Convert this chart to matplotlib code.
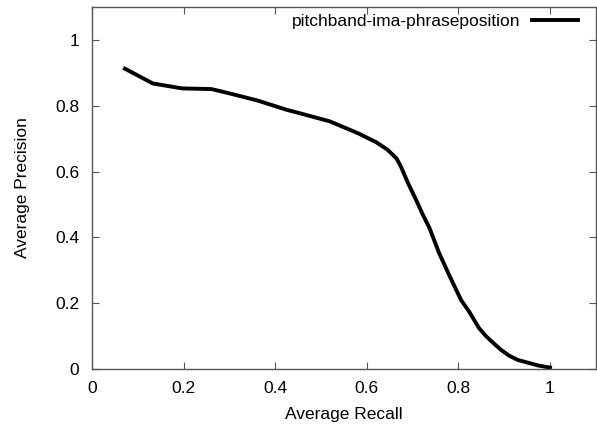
import numpy as np
import matplotlib.pyplot as plt

recall = [0.072, 0.133, 0.197, 0.261, 0.30, 0.362, 0.425, 0.447, 0.519, 0.582, 0.621,
          0.645, 0.665, 0.675, 0.690, 0.708, 0.722, 0.737, 0.758, 0.780, 0.806, 0.824,
          0.845, 0.860, 0.876, 0.893, 0.911, 0.930, 0.954, 0.975, 1.0]
precision = [0.913, 0.868, 0.853, 0.851, 0.838, 0.816, 0.788, 0.780, 0.753, 0.716, 0.689,
             0.667, 0.640, 0.614, 0.565, 0.513, 0.470, 0.428, 0.352, 0.285, 0.209, 0.173,
             0.124, 0.100, 0.079, 0.058, 0.040, 0.027, 0.018, 0.010, 0.004]

plt.rcParams['font.family'] = ['Liberation Sans', 'DejaVu Sans']
plt.rcParams['font.size'] = 12.5

fig = plt.figure(figsize=(5.97, 4.24), dpi=100)
ax = fig.add_axes([0.154, 0.130, 0.844, 0.853])
ax.plot(recall, precision, color='black', linewidth=2.8, label='pitchband-ima-phraseposition')

ax.set_xlim(0, 1.1)
ax.set_ylim(0, 1.1)
ax.set_xticks(np.arange(0, 1.01, 0.2))
ax.set_yticks(np.arange(0, 1.01, 0.2))
ax.set_xticklabels(['0', '0.2', '0.4', '0.6', '0.8', '1'])
ax.set_yticklabels(['0', '0.2', '0.4', '0.6', '0.8', '1'])
ax.tick_params(direction='in', top=True, right=True, length=5, width=0.8, color='#555555')
ax.tick_params(axis='x', pad=9)
ax.tick_params(axis='y', pad=9)
for s in ax.spines.values():
    s.set_color('#555555')
    s.set_linewidth(1.0)

ax.set_xlabel('Average Recall', labelpad=8)
ax.set_ylabel('Average Precision', labelpad=18)
ax.legend(loc='upper right', bbox_to_anchor=(1.0, 1.03), frameon=False, markerfirst=False,
          handlelength=2.7, borderaxespad=0.7, handletextpad=0.65, borderpad=0.3)

fig.savefig('out.png', dpi=100)
